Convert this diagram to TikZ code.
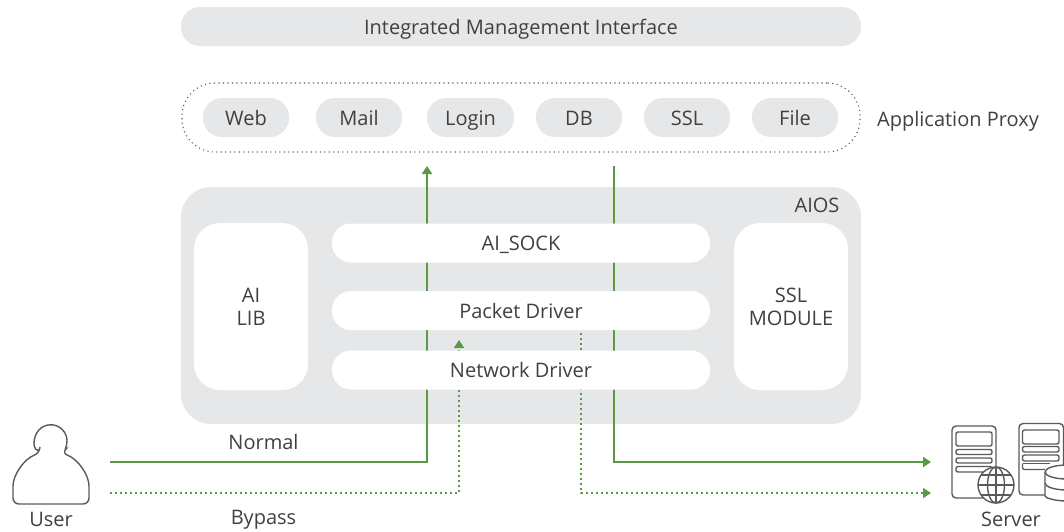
\documentclass[tikz,border=0pt]{standalone}
\usepackage{fontspec}
\setmainfont{Open Sans}
\usetikzlibrary{arrows.meta}

\definecolor{panelgray}{HTML}{E6E7E8}
\definecolor{linegreen}{HTML}{5B9A45}
\definecolor{textgray}{HTML}{404040}
\definecolor{icongray}{HTML}{5A5A5A}

\tikzset{
  label/.style={text=textgray, font=\fontsize{20}{24}\selectfont, align=center, inner sep=0pt},
  oneline/.style={label, text height=17.5pt, text depth=2.5pt},
  graypill/.style={oneline, fill=panelgray, rounded corners=19pt, minimum height=39pt},
  whitebar/.style={oneline, fill=white, rounded corners=19pt, minimum height=39pt, minimum width=378pt},
  sidebox/.style={label, fill=white, rounded corners=26pt, minimum width=114pt, minimum height=167pt},
  normalpath/.style={draw=linegreen, line width=2.3pt},
  bypasspath/.style={draw=linegreen, line width=1.6pt, dash pattern=on 1.6pt off 3.4pt},
  greentip/.style={-{Triangle[width=10pt,length=8pt]}},
  icon/.style={draw=icongray, line width=1.4pt, rounded corners=2pt},
}

\begin{document}
\begin{tikzpicture}[x=1pt, y=-1pt]
\useasboundingbox (0,0) rectangle (1064,531);

  % management bar
  \node[graypill, minimum width=680pt] (mgmt) at (521,26.5) {Integrated Management Interface};

  % application proxy
  \node[draw=icongray, line width=1.1pt, dash pattern=on 1.1pt off 3.4pt, rounded corners=33pt,
        minimum width=678pt, minimum height=69pt, inner sep=0pt] (proxy) at (521,117.5) {};
  \node[graypill, minimum width=86pt] (web) at (246,117.5) {Web};
  \node[graypill, minimum width=86pt] (mail) at (359,117.5) {Mail};
  \node[graypill, minimum width=87pt] (login) at (470.5,117.5) {Login};
  \node[graypill, minimum width=86pt] (db) at (579,117.5) {DB};
  \node[graypill, minimum width=86pt] (ssl) at (687,117.5) {SSL};
  \node[graypill, minimum width=86pt] (file) at (795,117.5) {File};
  \node[oneline] (proxylabel) at (958,118.5) {Application Proxy};

  % aios panel
  \node[fill=panelgray, rounded corners=30pt, minimum width=680pt, minimum height=237pt, inner sep=0pt]
       (aios) at (521,305.5) {};
  \node[oneline] (aioslabel) at (817,205) {AIOS};

  % end points of the paths
  \coordinate (normalin) at (110,462);
  \coordinate (normalup) at (427,166);
  \coordinate (normaldown) at (614,166);
  \coordinate (normalout) at (931,462);
  \coordinate (bypassin) at (110,493);
  \coordinate (bypassup) at (459,340);
  \coordinate (bypassdown) at (581,333);
  \coordinate (bypassout) at (931,493);

  % paths run under the white bars
  \draw[normalpath, greentip] (normalin) -| (normalup);
  \draw[normalpath, greentip] (normaldown) |- (normalout);
  \draw[bypasspath, greentip] (bypassin) -| (bypassup);
  \draw[bypasspath, greentip] (bypassdown) |- (bypassout);

  \node[sidebox] (ailib) at (251,306.5) {AI\\[-1pt]LIB};
  \node[sidebox] (sslmodule) at (791,306.5) {SSL\\[-1pt]MODULE};
  \node[whitebar] (aisock) at (521,243) {AI\_SOCK};
  \node[whitebar] (packet) at (521,310.5) {Packet Driver};
  \node[whitebar] (network) at (521,370) {Network Driver};

  \node[oneline] (normal) at (263.5,442) {Normal};
  \node[oneline] (bypass) at (263.5,517) {Bypass};

  % user icon
  \draw[icon, rounded corners=6pt] (40,453) arc[start angle=132, end angle=408, radius=16.2]
        .. controls (78,459) and (89,475) .. (89,492)
        -- (89,504) -- (13,504) -- (13,492)
        .. controls (13,475) and (24,459) .. (40,453) -- cycle;
  \node[label] (user) at (51,519) {User};

  % server with globe
  \draw[icon, rounded corners=4pt] (952,426) rectangle (996,498);
  \draw[icon] (956,432) rectangle (992,446);
  \draw[icon] (956,449.5) rectangle (992,454.5);
  \draw[icon] (956,458) rectangle (992,463);
  \draw[icon] (956,466.5) rectangle (992,472);
  \draw[icon, fill=white] (996,485) circle[radius=18];
  \draw[icon] (996,485) ellipse[x radius=8.5, y radius=18];
  \draw[icon] (978,485) -- (1014,485);
  \draw[icon] (981,475) -- (1011,475);
  \draw[icon] (981,495) -- (1011,495);
  \draw[icon] (996,467) -- (996,503);

  % server with database
  \draw[icon, rounded corners=4pt] (1045,495) -- (1019,495) -- (1019,423.5) -- (1063.5,423.5) -- (1063.5,470);
  \draw[icon] (1022.5,430) rectangle (1059,444);
  \draw[icon] (1022.5,446.5) rectangle (1059,452);
  \draw[icon] (1022.5,455) rectangle (1059,461);
  \draw[icon] (1022.5,463.5) -- (1050,463.5);
  \draw[icon] (1022.5,463.5) -- (1022.5,469.5) -- (1045,469.5);
  \begin{scope}
    \clip (1030,455) rectangle (1064,510);
    \draw[icon, fill=white] (1045,472) -- (1045,494) arc[start angle=180, end angle=0, x radius=22, y radius=7]
          -- (1089,472) arc[start angle=0, end angle=-180, x radius=22, y radius=7];
    \draw[icon] (1045,472) arc[start angle=180, end angle=0, x radius=22, y radius=7];
    \draw[icon] (1045,483) arc[start angle=180, end angle=0, x radius=22, y radius=7];
  \end{scope}
  \node[label] (server) at (1011,519) {Server};

\end{tikzpicture}
\end{document}
